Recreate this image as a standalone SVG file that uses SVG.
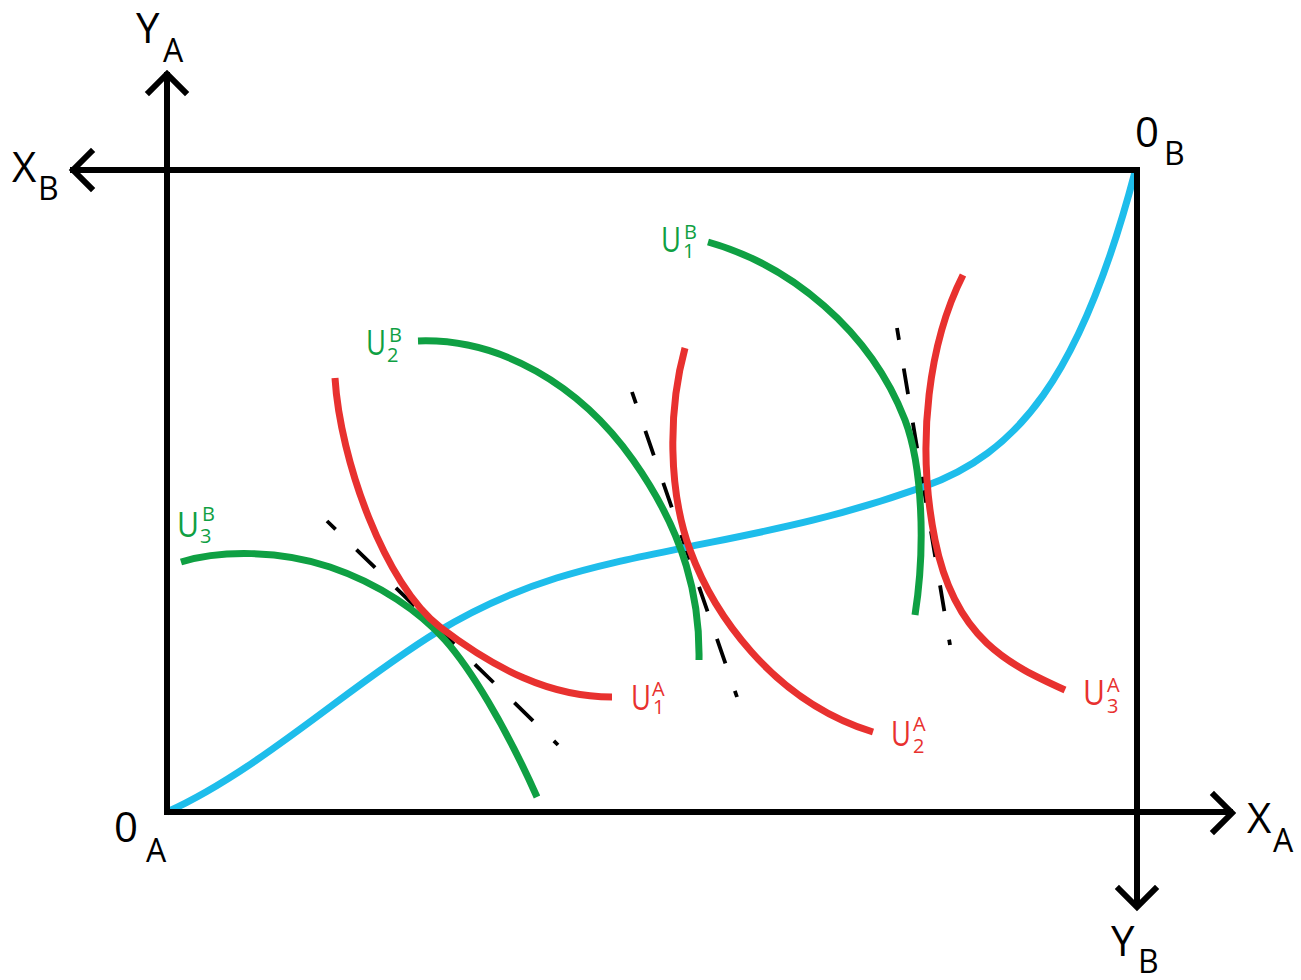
<svg xmlns="http://www.w3.org/2000/svg" width="1301" height="980" viewBox="0 0 1301 980">
<style>
.ax{fill:none;stroke:#000;stroke-width:6;stroke-linecap:butt;stroke-linejoin:miter}
.ah{fill:none;stroke:#000;stroke-width:6;stroke-linecap:square;stroke-linejoin:miter}
.cur{fill:none;stroke-width:7;stroke-linecap:butt}
.blue{stroke:#1EBDEB}
.green{stroke:#0FA043}
.red{stroke:#E8312F}
.dash{fill:none;stroke:#000;stroke-width:3.8;stroke-dasharray:26 29;stroke-dashoffset:14}
.lbl{font-family:"Open Sans","Liberation Sans",sans-serif;fill:#000}
.big{font-size:42px}
.sub{font-size:32px}
.ul{font-family:"Open Sans","Liberation Sans",sans-serif;font-size:35px}
.us{font-family:"Open Sans","Liberation Sans",sans-serif;font-size:20px}
.g{fill:#0FA043}
.r{fill:#E8312F}
</style>
<rect width="1301" height="980" fill="#fff"/>
<g id="tangents">
<path class="dash" d="M327,521 L558,745"/>
<path class="dash" d="M632,392 L737,697"/>
<path class="dash" d="M897,328 L950,645"/>
</g>
<g id="contract-curve">
<path class="cur blue" d="M167,812 C260,770 350,685 437,632 S600,565 683,548 S830,520 923,487 S1080,380 1135,172"/>
</g>
<g id="UB3"><path class="cur green" d="M181,562 C220,550 280,550 330,567 S420,612 445,640 S505,725 537,797"/></g>
<g id="UB2"><path class="cur green" d="M418,341 C500,338 580,385 633,460 S700,600 699,660"/></g>
<g id="UB1"><path class="cur green" d="M708,242 C790,265 870,330 905,420 C922,465 926,545 915,615"/></g>
<g id="UA1"><path class="cur red" d="M335,378 C340,460 385,585 440,627 S550,697 612,697"/></g>
<g id="UA2"><path class="cur red" d="M685,348 C668,410 668,490 690,550 C712,610 770,700 873,732"/></g>
<g id="UA3"><path class="cur red" d="M963,275 C930,340 915,440 935,540 S1010,665 1065,690"/></g>
<g id="axes">
<path class="ax" d="M167,72 L167,815 M164,812 L1233,812 M70,170 L1140,170 M1137,167 L1137,908"/>
<path class="ah" d="M149,92 L167,74 L185,92"/>
<path class="ah" d="M91,152 L73,170 L91,188"/>
<path class="ah" d="M1214,795 L1232,813 L1214,831"/>
<path class="ah" d="M1119,889 L1137,907 L1155,889"/>
</g>
<g id="axis-labels">
<text class="lbl big" x="136" y="43">Y</text><text class="lbl sub" x="163" y="62">A</text>
<text class="lbl big" x="12" y="182">X</text><text class="lbl sub" x="38" y="200">B</text>
<text class="lbl big" x="1135" y="147">0</text><text class="lbl sub" x="1164" y="165">B</text>
<text class="lbl big" x="114" y="842">0</text><text class="lbl sub" x="146" y="862">A</text>
<text class="lbl big" x="1247" y="833">X</text><text class="lbl sub" x="1273" y="852">A</text>
<text class="lbl big" x="1111" y="956">Y</text><text class="lbl sub" x="1138" y="973">B</text>
</g>
<g id="curve-labels">
<g id="lbl-UB1"><text class="ul g" x="661" y="252" textLength="20" lengthAdjust="spacingAndGlyphs">U</text><text class="us g" x="684" y="239">B</text><text class="us g" x="683" y="258">1</text></g>
<g id="lbl-UB2"><text class="ul g" x="366" y="355" textLength="20" lengthAdjust="spacingAndGlyphs">U</text><text class="us g" x="389" y="342">B</text><text class="us g" x="387" y="362">2</text></g>
<g id="lbl-UB3"><text class="ul g" x="177" y="537" textLength="22" lengthAdjust="spacingAndGlyphs">U</text><text class="us g" x="202" y="521">B</text><text class="us g" x="200" y="543">3</text></g>
<g id="lbl-UA1"><text class="ul r" x="631" y="710" textLength="20" lengthAdjust="spacingAndGlyphs">U</text><text class="us r" x="652" y="696">A</text><text class="us r" x="653" y="714">1</text></g>
<g id="lbl-UA2"><text class="ul r" x="891" y="746" textLength="20" lengthAdjust="spacingAndGlyphs">U</text><text class="us r" x="913" y="731">A</text><text class="us r" x="913" y="753">2</text></g>
<g id="lbl-UA3"><text class="ul r" x="1083" y="705" textLength="22" lengthAdjust="spacingAndGlyphs">U</text><text class="us r" x="1107" y="692">A</text><text class="us r" x="1107" y="713">3</text></g>
</g>
</svg>
